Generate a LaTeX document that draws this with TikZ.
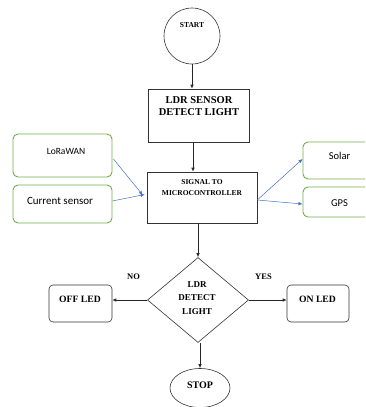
\documentclass[tikz,border=0pt]{standalone}
\usepackage{fontspec}
\setmainfont{Liberation Serif}
\newfontfamily\calib{Carlito}
\usetikzlibrary{shapes.geometric,calc,arrows.meta}
\definecolor{gbox}{RGB}{112,173,71}
\definecolor{barrow}{RGB}{68,114,196}
\tikzset{
  blk/.style={draw=black!80, line width=0.6pt, inner sep=0pt},
  rbox/.style={blk, rounded corners=4pt},
  gbx/.style={draw=gbox, line width=0.9pt, rounded corners=5pt, inner sep=0pt},
  ttl/.style={font=\bfseries, inner sep=0pt, align=center},
  stxt/.style={font=\calib, inner sep=0pt},
  flow/.style={-{Latex[length=4pt,width=3.5pt]}, line width=0.7pt, black!85},
  bflow/.style={-{Latex[length=4pt,width=3.5pt]}, line width=0.5pt, barrow}
}
\begin{document}
\begin{tikzpicture}[x=1pt,y=-1pt]
\useasboundingbox (0,0) rectangle (365,407);
\begin{scope}
\clip (0,0) rectangle (365,407);
% shapes
\node[blk, circle, minimum size=56pt] (start) at (192,36) {};
\node[blk, minimum width=101pt, minimum height=53pt] (ldr) at (198.5,115.5) {};
\node[blk, minimum width=110pt, minimum height=51pt] (sig) at (202,197.5) {};
\node[blk, diamond, minimum width=101pt, minimum height=85pt] (dia) at (198,300) {};
\node[rbox, minimum width=63pt, minimum height=37pt] (off) at (80.5,303.5) {};
\node[rbox, minimum width=62pt, minimum height=37pt] (on) at (318,303.5) {};
\node[blk, ellipse, minimum width=60pt, minimum height=39pt] (stop) at (200,388) {};
\node[gbx, minimum width=99pt, minimum height=43pt] (lora) at (62.5,155.5) {};
\node[gbx, minimum width=99pt, minimum height=38pt] (cur) at (62.5,204) {};
\node[gbx, minimum width=69pt, minimum height=37pt] (solar) at (337.5,160.5) {};
\node[gbx, minimum width=69pt, minimum height=30pt] (gps) at (337.5,202) {};
% texts
\node[ttl, font=\bfseries\fontsize{7.5}{9}\selectfont] (startT) at (192,25) {START};
\node[ttl, font=\bfseries\fontsize{10.5}{12}\selectfont] (ldrT) at (199,106) {LDR SENSOR\\DETECT LIGHT};
\node[ttl, font=\bfseries\fontsize{7.5}{11}\selectfont] (sigT) at (202,188) {SIGNAL TO\\MICROCONTROLLER};
\node[ttl, font=\bfseries\fontsize{9}{13.5}\selectfont] (diaT) at (197,298) {LDR\\DETECT\\LIGHT};
\node[ttl, font=\bfseries\fontsize{9.7}{12}\selectfont] (offT) at (80,299) {OFF LED};
\node[ttl, font=\bfseries\fontsize{9.7}{12}\selectfont] (onT) at (317.5,299) {ON LED};
\node[ttl, font=\bfseries\fontsize{10}{12}\selectfont] (stopT) at (200,385) {STOP};
\node[ttl, font=\bfseries\fontsize{8.5}{10}\selectfont] (noT) at (133.5,277) {NO};
\node[ttl, font=\bfseries\fontsize{8.5}{10}\selectfont] (yesT) at (263.5,277) {YES};
\node[stxt, font=\calib\fontsize{9.5}{11}\selectfont] (loraT) at (66,151) {LoRaWAN};
\node[stxt, font=\calib\fontsize{11}{13}\selectfont] (curT) at (60,201) {Current sensor};
\node[stxt, font=\calib\fontsize{10.5}{12}\selectfont] (solarT) at (339.5,156) {Solar};
\node[stxt, font=\calib\fontsize{10.5}{12}\selectfont] (gpsT) at (339.5,203) {GPS};
% connectors
\draw[flow] (start.south) -- (start.south |- ldr.north);
\draw[flow] ([xshift=-5.5pt]ldr.south) -- ([xshift=-5.5pt]ldr.south |- sig.north);
\draw[flow] ([xshift=-4pt]sig.south) -- (dia.north);
\draw[flow] (dia.west) -- (off.east |- dia.west);
\draw[flow] (dia.east) -- (on.west |- dia.east);
\draw[flow] ([xshift=2pt]dia.south) -- ([xshift=2pt]dia.south |- stop.north);
\coordinate (lo1) at ($(lora.east)+(1,3.5)$);
\coordinate (lo2) at ($(sig.west)+(-4,-2.5)$);
\draw[bflow] (lo1) -- (lo2);
\draw[bflow] ([yshift=3pt]cur.east) -- ([yshift=3pt,xshift=-2pt]sig.west);
\coordinate (so) at ($(sig.east)+(0,2.5)$);
\draw[bflow] (so) -- ([yshift=1.5pt]solar.west);
\draw[bflow] (so) -- ([yshift=-2pt]gps.west);
\end{scope}
\end{tikzpicture}
\end{document}
